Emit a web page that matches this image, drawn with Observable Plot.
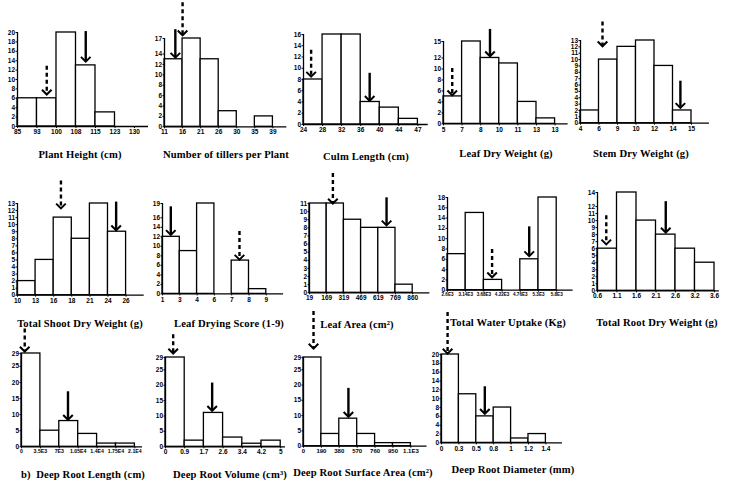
<!DOCTYPE html>
<html><head><meta charset="utf-8">
<script src="https://cdn.jsdelivr.net/npm/d3@7"></script>
<script src="https://cdn.jsdelivr.net/npm/@observablehq/plot@0.6"></script>
<style>
body{margin:0;background:#fff;}
#fig{position:relative;width:734px;height:488px;overflow:hidden;background:#fff;}
#fig svg{position:absolute;}
.title{position:absolute;font-family:"Liberation Serif","Times New Roman",serif;font-weight:bold;font-size:10.6px;line-height:12px;white-space:pre;transform:translate(-50%,-50%);color:#000;letter-spacing:0.15px;}
</style></head>
<body><div id="fig"></div>
<script>
// ---------- data ----------
const plantHeightBins = ["85","93","100","108","115","123","130"];
const plantHeightCounts = [6,6,20,13,3,0];
const plantHeightYTicks = [0,2,4,6,8,10,12,14,16,18,20];
const plantHeightArrows = [{x:1.5,from:12.8,to:6.8,kind:"dashed"},{x:3.5,from:20.2,to:13.8,kind:"solid"}];

const tillersBins = ["11","16","21","26","30","35","39"];
const tillersCounts = [13,17,13,3,0,2];
const tillersYTicks = [0,2,4,6,8,10,12,14,17];
const tillersArrows = [{x:0.6,from:18.7,to:13.3,kind:"solid"},{x:1.0,from:23.9,to:17.6,kind:"dashed"}];

const culmBins = ["24","28","32","36","40","44","47"];
const culmCounts = [8,16,16,4,3,1];
const culmYTicks = [0,2,4,6,8,10,12,14,16];
const culmArrows = [{x:0.4,from:13.2,to:8.5,kind:"dashed"},{x:3.47,from:9.1,to:4.2,kind:"solid"}];

const leafDwBins = ["5","7","8","10","11","13","13"];
const leafDwCounts = [5,15,12,11,4,1];
const leafDwYTicks = [0,2,4,6,8,10,12,15];
const leafDwArrows = [{x:0.47,from:10.1,to:5.2,kind:"dashed"},{x:2.5,from:17.2,to:12.3,kind:"solid"}];

const stemDwBins = ["4","6","9","10","12","14","15"];
const stemDwCounts = [2,10,12,13,9,2];
const stemDwYTicks = [0,1,2,3,4,5,6,7,8,9,10,11,12,13];
const stemDwArrows = [{x:1.19,from:15.9,to:12.1,kind:"dashed"},{x:5.4,from:6.6,to:2.4,kind:"solid"}];

const shootDwBins = ["10","13","16","18","21","24","26"];
const shootDwCounts = [2,5,11,8,13,9];
const shootDwYTicks = [0,1,2,3,4,5,6,7,8,9,10,11,12,13];
const shootDwArrows = [{x:2.4,from:16.2,to:12.3,kind:"dashed"},{x:5.45,from:13.2,to:9.2,kind:"solid"}];

const dryingBins = ["1","3","4","6","7","8","9"];
const dryingCounts = [12,9,19,0,7,1];
const dryingYTicks = [0,2,4,6,8,10,12,14,16,19];
const dryingArrows = [{x:0.48,from:18.3,to:12.4,kind:"solid"},{x:4.45,from:13.1,to:7.2,kind:"dashed"}];

const leafAreaBins = ["19","169","319","469","619","769","860"];
const leafAreaCounts = [11,11,9,8,8,1];
const leafAreaYTicks = [0,1,2,3,4,5,6,7,8,9,10,11];
const leafAreaArrows = [{x:1.36,from:14.7,to:11.0,kind:"dashed"},{x:4.48,from:11.7,to:8.3,kind:"solid"}];

const waterBins = ["2.6E3","3.14E3","3.68E3","4.22E3","4.76E3","5.3E3","5.8E3"];
const waterCounts = [7,15,2,0,6,18];
const waterYTicks = [0,2,4,6,8,10,12,14,16,18];
const waterArrows = [{x:2.45,from:7.9,to:2.5,kind:"dashed"},{x:4.49,from:12.3,to:6.6,kind:"solid"}];

const rootDwBins = ["0.6","1.1","1.6","2.1","2.6","3.2","3.6"];
const rootDwCounts = [6,14,10,8,6,4];
const rootDwYTicks = [0,1,2,3,4,5,6,7,8,9,10,11,12,14];
const rootDwArrows = [{x:0.45,from:10.7,to:6.6,kind:"dashed"},{x:3.5,from:12.7,to:8.3,kind:"solid"}];

const deepLenBins = ["0","3.5E3","7E3","1.05E4","1.4E4","1.75E4","2.1E4"];
const deepLenCounts = [29,5,8,4,1,1];
const deepLenYTicks = [0,5,10,15,20,25,29];
const deepLenArrows = [{x:0.17,from:36.6,to:29.6,kind:"dashed"},{x:2.46,from:17.1,to:8.4,kind:"solid"}];

const deepVolBins = ["0","0.9","1.7","2.6","3.4","4.2","5"];
const deepVolCounts = [29,2,11,3,1,2];
const deepVolYTicks = [0,5,10,15,20,25,29];
const deepVolArrows = [{x:0.4,from:36.4,to:30.3,kind:"dashed"},{x:2.43,from:20.7,to:11.7,kind:"solid"}];

const deepSaBins = ["0","190","380","570","760","950","1.1E3"];
const deepSaCounts = [29,4,9,4,1,1];
const deepSaYTicks = [0,5,10,15,20,25,29];
const deepSaArrows = [{x:0.56,from:44,to:31.9,kind:"dashed"},{x:2.51,from:18.9,to:9.6,kind:"solid"}];

const deepDiaBins = ["0","0.3","0.5","0.8","1","1.2","1.4"];
const deepDiaCounts = [20,11,6,8,1,2];
const deepDiaYTicks = [0,2,4,6,8,10,12,14,16,18,20];
const deepDiaArrows = [{x:0.35,from:29.5,to:20.2,kind:"dashed"},{x:2.49,from:12.7,to:6.6,kind:"solid"}];

const titles = [
  "Plant Height (cm)","Number of tillers per Plant","Culm Length (cm)","Leaf Dry Weight (g)","Stem Dry Weight (g)",
  "Total Shoot Dry Weight (g)","Leaf Drying Score (1-9)","Leaf Area (cm²)","Total Water Uptake (Kg)","Total Root Dry Weight (g)",
  "b)  Deep Root Length (cm)","Deep Root Volume (cm³)","Deep Root Surface Area (cm²)","Deep Root Diameter (mm)"
];

const panels = [
  {bins:plantHeightBins,counts:plantHeightCounts,yTicks:plantHeightYTicks,arrows:plantHeightArrows},
  {bins:tillersBins,counts:tillersCounts,yTicks:tillersYTicks,arrows:tillersArrows},
  {bins:culmBins,counts:culmCounts,yTicks:culmYTicks,arrows:culmArrows},
  {bins:leafDwBins,counts:leafDwCounts,yTicks:leafDwYTicks,arrows:leafDwArrows},
  {bins:stemDwBins,counts:stemDwCounts,yTicks:stemDwYTicks,arrows:stemDwArrows},
  {bins:shootDwBins,counts:shootDwCounts,yTicks:shootDwYTicks,arrows:shootDwArrows},
  {bins:dryingBins,counts:dryingCounts,yTicks:dryingYTicks,arrows:dryingArrows},
  {bins:leafAreaBins,counts:leafAreaCounts,yTicks:leafAreaYTicks,arrows:leafAreaArrows},
  {bins:waterBins,counts:waterCounts,yTicks:waterYTicks,arrows:waterArrows},
  {bins:rootDwBins,counts:rootDwCounts,yTicks:rootDwYTicks,arrows:rootDwArrows},
  {bins:deepLenBins,counts:deepLenCounts,yTicks:deepLenYTicks,arrows:deepLenArrows},
  {bins:deepVolBins,counts:deepVolCounts,yTicks:deepVolYTicks,arrows:deepVolArrows},
  {bins:deepSaBins,counts:deepSaCounts,yTicks:deepSaYTicks,arrows:deepSaArrows},
  {bins:deepDiaBins,counts:deepDiaCounts,yTicks:deepDiaYTicks,arrows:deepDiaArrows}
];

// ---------- layout (pixels) ----------
const layout = [
  {ox:17,   y0:126,   yTop:32,    bw:19.5,  ext:0.72, tx:80,  ty:155, xf:6.5},
  {ox:164.3,y0:126,   yTop:37.7,  bw:18.07, ext:0.77, tx:226, ty:155, xf:6.5},
  {ox:303.3,y0:123.7, yTop:33.7,  bw:19.07, ext:0.54, tx:366, ty:157, xf:6.5},
  {ox:443.3,y0:123.7, yTop:41.3,  bw:18.6,  ext:0.7,  tx:506, ty:154, xf:6.5},
  {ox:580,  y0:122.7, yTop:40,    bw:18.5,  ext:0.97, tx:641, ty:154, xf:6.5},
  {ox:17.3, y0:294.7, yTop:203,   bw:18.1,  ext:1.0,  tx:80,  ty:324, xf:6.5},
  {ox:161.7,y0:293.7, yTop:203.3, bw:17.3,  ext:1.0,  tx:229, ty:324, xf:6.5},
  {ox:309,  y0:292.3, yTop:203,   bw:17.2,  ext:1.0,  tx:357, ty:325, xf:6.5},
  {ox:447.3,y0:290,   yTop:197.3, bw:18.2,  ext:0.9,  tx:508, ty:323, xf:4.6},
  {ox:597.3,y0:290,   yTop:191.7, bw:19.5,  ext:0.25, tx:657, ty:323, xf:6.5},
  {ox:20.7, y0:446,   yTop:352.7, bw:18.9,  ext:0.4,  tx:83,  ty:475, xf:5.2},
  {ox:165,  y0:446,   yTop:356.7, bw:19.2,  ext:0.25, tx:230, ty:475, xf:6.5},
  {ox:303.3,y0:446,   yTop:357.3, bw:17.9,  ext:0.9,  tx:363, ty:473, xf:6},
  {ox:440.7,y0:442.7, yTop:354.3, bw:17.4,  ext:0.95, tx:513, ty:470, xf:6.5}
];

const chevron = {draw(ctx, size){ const a = Math.sqrt(size/Math.PI)*1.5; ctx.moveTo(-a,-a); ctx.lineTo(0,0); ctx.lineTo(a,-a); }};

const fig = document.getElementById("fig");
const mL = 26, mR = 6, mT = 50, mB = 16;

panels.forEach((p, k) => {
  const L = layout[k];
  const xmax = p.counts.length + L.ext;
  const ymax = p.yTicks[p.yTicks.length - 1];
  const w = mL + xmax * L.bw + mR;
  const h = mT + (L.y0 - L.yTop) + mB;
  const bars = p.counts.map((c, i) => ({i, c})).filter(d => d.c > 0);
  const solid = p.arrows.filter(a => a.kind === "solid");
  const dashed = p.arrows.filter(a => a.kind === "dashed");
  const svg = Plot.plot({
    width: w, height: h,
    marginLeft: mL, marginRight: mR, marginTop: mT, marginBottom: mB,
    style: {background: "transparent", overflow: "visible", fontFamily: "'Liberation Sans', Arial, sans-serif", fontSize: "6.5px", fontWeight: "bold", color: "#000"},
    x: {domain: [0, xmax], ticks: d3.range(p.bins.length), tickFormat: i => p.bins[i], tickSize: 2, tickPadding: 1, label: null},
    y: {domain: [0, ymax], ticks: p.yTicks, tickFormat: d => String(d), tickSize: 1.5, tickPadding: 1, label: null},
    marks: [
      Plot.rect(bars, {x1: d => d.i, x2: d => d.i + 1, y1: 0, y2: d => d.c, fill: "white", stroke: "#000", strokeWidth: 1.3}),
      Plot.ruleY([0], {x1: 0, x2: xmax, stroke: "#000", strokeWidth: 1.3}),
      Plot.ruleX([0], {y1: 0, y2: ymax, stroke: "#000", strokeWidth: 1.3}),
      Plot.ruleX(solid, {x: "x", y1: "from", y2: "to", stroke: "#000", strokeWidth: 2.4}),
      Plot.ruleX(dashed, {x: "x", y1: "from", y2: "to", stroke: "#000", strokeWidth: 2.4, strokeDasharray: "4,3"}),
      Plot.dot(p.arrows, {x: "x", y: "to", symbol: chevron, r: 3.2, fill: "none", stroke: "#000", strokeWidth: 2})
    ]
  });
  d3.select(svg).selectAll('g[aria-label="x-axis tick label"] text, g[aria-label="x-axis"] text')
    .style("font-size", L.xf + "px");
  svg.style.left = (L.ox - mL) + "px";
  svg.style.top = (L.yTop - mT) + "px";
  fig.appendChild(svg);
  const t = document.createElement("div");
  t.className = "title";
  t.textContent = titles[k];
  t.style.left = L.tx + "px";
  t.style.top = L.ty + "px";
  fig.appendChild(t);
});
</script>
</body></html>
